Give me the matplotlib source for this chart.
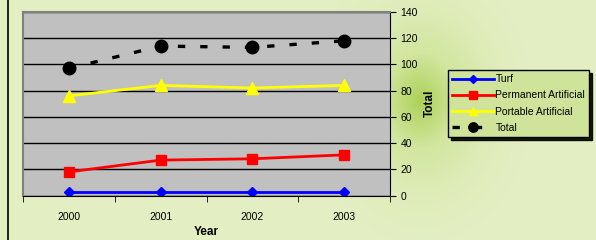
import numpy as np
import matplotlib.pyplot as plt
from matplotlib.colors import LinearSegmentedColormap

plt.rcParams['font.family'] = ['Liberation Sans', 'DejaVu Sans']

years = ["2000", "2001", "2002", "2003"]
turf = [3, 3, 3, 3]
permanent = [18, 27, 28, 31]
portable = [76, 84, 82, 84]
total = [97, 114, 113, 118]

W, H = 596, 240
fig = plt.figure(figsize=(W / 100, H / 100), dpi=100)

# green gradient background
bg = fig.add_axes([0, 0, 1, 1], zorder=-10)
yy, xx = np.mgrid[0:H, 0:W]
d = np.sqrt(((xx - 420) / 70.0) ** 2 + ((yy - 100) / 90.0) ** 2)
cmap = LinearSegmentedColormap.from_list("g", ["#add158", "#d2e6a0", "#dfecb9", "#e3efc3"])
bg.imshow(np.clip(d, 0, 1.6), cmap=cmap, aspect="auto", extent=[0, W, H, 0])
bg.plot([8, 8], [0, H], color="black", lw=1.2)
bg.set_xlim(0, W)
bg.set_ylim(H, 0)
bg.axis("off")

ax = fig.add_axes([23 / W, 1 - 195.5 / H, 367 / W, 183.5 / H])
ax.set_facecolor("#c0c0c0")
x = np.arange(len(years))

ax.plot(x, turf, color="#0000ff", lw=2, marker="D", ms=5.5, label="Turf")
ax.plot(x, permanent, color="#ff0000", lw=2, marker="s", ms=7, label="Permanent Artificial")
ax.plot(x, portable, color="#ffff00", lw=2, marker="^", ms=8, label="Portable Artificial")
ax.plot(x, total, color="black", lw=2.4, ls=(0, (2.2, 4.5)), marker="o", ms=9, label="Total")

ax.set_xlim(-0.5, 3.5)
ax.set_ylim(0, 140)
ax.set_yticks(range(0, 141, 20))
ax.yaxis.tick_right()
ax.yaxis.set_label_position("right")
ax.grid(axis="y", color="black", lw=1)
ax.set_axisbelow(True)
ax.set_xticks(x)
ax.set_xticklabels(years)
ax.set_xticks([-0.5, 0.5, 1.5, 2.5, 3.5], minor=True)
ax.tick_params(axis="x", which="major", length=0, labelsize=7.5, pad=12)
ax.tick_params(axis="x", which="minor", length=4, direction="out")
ax.tick_params(axis="y", labelsize=7.5, length=4, direction="out")
for s in ["top", "left"]:
    ax.spines[s].set_color("#808080")
    ax.spines[s].set_linewidth(1.5)
ax.spines["bottom"].set_color("black")
ax.spines["right"].set_color("black")
ax.set_xlabel("Year", fontsize=8.5, fontweight="bold", labelpad=3)
ax.set_ylabel("Total", fontsize=8.5, fontweight="bold", labelpad=4)

leg = ax.legend(loc="upper left", bbox_to_anchor=((448 - 23) / 367, 1 - (70 - 12) / 183.5),
                fontsize=7.5, frameon=True, fancybox=False,
                shadow={"color": "black", "alpha": 0.9},
                handlelength=4, borderpad=0.4, labelspacing=0.6, handletextpad=0.15,
                borderaxespad=0, markerscale=0.75)
leg.get_frame().set_facecolor("#cfe49a")
leg.get_frame().set_edgecolor("black")
leg.get_frame().set_alpha(1)

fig.savefig("out.png", dpi=100)
